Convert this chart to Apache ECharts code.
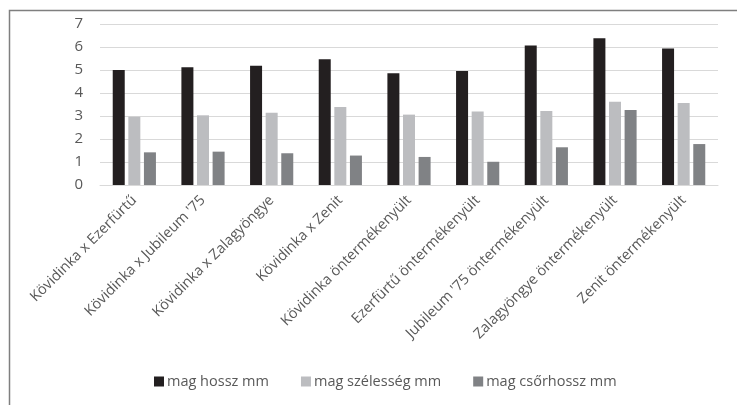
<!DOCTYPE html>
<html>
<head>
<meta charset="utf-8">
<script src="https://cdn.jsdelivr.net/npm/echarts@6/dist/echarts.min.js"></script>
<style>
  html, body { margin: 0; padding: 0; background: #fff; }
  #chart { width: 737px; height: 405px; }
</style>
</head>
<body>
<div id="chart"></div>
<script>
// Seed measurements per cross / open-pollinated line (mm)
const categories = [
  'Kövidinka x Ezerfürtű',
  'Kövidinka x Jubileum \'75',
  'Kövidinka x Zalagyöngye',
  'Kövidinka x Zenit',
  'Kövidinka öntermékenyült',
  'Ezerfürtű öntermékenyült',
  'Jubileum \'75 öntermékenyült',
  'Zalagyöngye öntermékenyült',
  'Zenit öntermékenyült'
];
const seriesNames = ['mag hossz mm', 'mag szélesség mm', 'mag csőrhossz mm'];
const magHossz = [5.00, 5.12, 5.19, 5.47, 4.86, 4.96, 6.07, 6.38, 5.93];
const magSzelesseg = [2.97, 3.03, 3.14, 3.39, 3.06, 3.20, 3.22, 3.62, 3.57];
const magCsorhossz = [1.42, 1.45, 1.38, 1.28, 1.22, 1.01, 1.64, 3.26, 1.78];
const yTicks = [0, 1, 2, 3, 4, 5, 6, 7];

const colors = ['#231f20', '#bcbdc0', '#808285'];
const font = 'Open Sans';
const valueSets = [magHossz, magSzelesseg, magCsorhossz];

const chart = echarts.init(document.getElementById('chart'));
chart.setOption({
  animation: false,
  graphic: [{
    type: 'rect',
    shape: { x: 9.5, y: 10.5, width: 800, height: 500 },
    style: { fill: 'none', stroke: '#7f7f7f', lineWidth: 1.5 },
    silent: true
  }],
  grid: { left: 100, right: 19, top: 24, bottom: 220, containLabel: false },
  legend: {
    data: seriesNames,
    bottom: 11,
    left: 149,
    itemWidth: 10,
    itemHeight: 10,
    itemGap: 32,
    icon: 'rect',
    textStyle: { color: '#595959', fontSize: 14.5, fontFamily: font, padding: [0, 0, 0, -2] }
  },
  xAxis: {
    type: 'category',
    data: categories,
    axisLine: { lineStyle: { color: '#d9d9d9', width: 1 } },
    axisTick: { show: false },
    axisLabel: {
      interval: 0,
      rotate: 45,
      margin: 13,
      color: '#595959',
      fontSize: 14.5,
      fontFamily: font
    }
  },
  yAxis: {
    type: 'value',
    min: yTicks[0],
    max: yTicks[yTicks.length - 1],
    interval: 1,
    axisLine: { show: false },
    axisTick: { show: false },
    splitLine: { lineStyle: { color: '#d9d9d9', width: 1 } },
    axisLabel: { color: '#595959', fontSize: 15, fontFamily: font, margin: 17 }
  },
  series: seriesNames.map((name, i) => ({
    name,
    type: 'bar',
    data: valueSets[i],
    barWidth: 12,
    barGap: '30%',
    itemStyle: { color: colors[i] }
  }))
});
</script>
</body>
</html>
